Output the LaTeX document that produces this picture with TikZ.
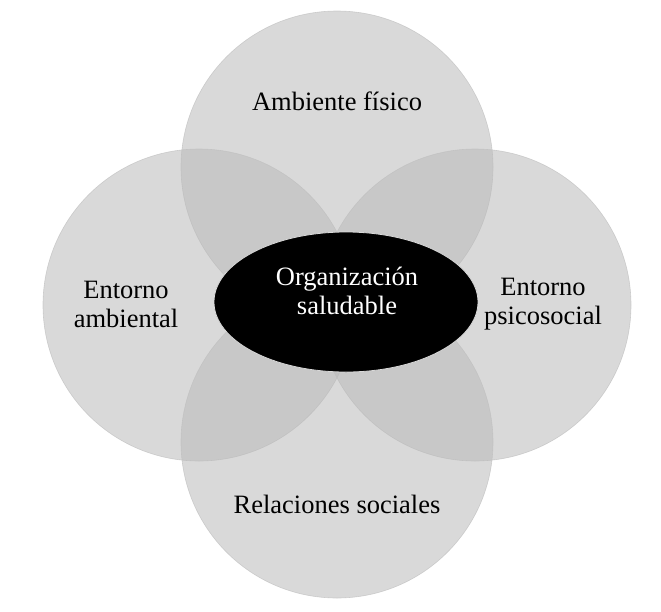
\documentclass[tikz,border=0pt]{standalone}
\usepackage{fontspec}
\setmainfont{Liberation Serif}
\usetikzlibrary{shapes.geometric}

\begin{document}
\begin{tikzpicture}[x=1pt, y=-1pt]
    % Styles for circles and texts
    \tikzstyle{area} = [circle, fill=black!27, fill opacity=0.55, draw=white!75!black, draw opacity=0.7, line width=0.6pt, minimum size=312pt, inner sep=0pt]
    \tikzstyle{areatext} = [align=center, font=\fontsize{26.5}{29}\selectfont, text=black]

    \useasboundingbox (0,0) rectangle (661,611);

  % Circles with explicit coordinates
    \node[area] (fisico) at (337,167) {};
    \node[area] (ambiental) at (199,305) {};
    \node[area] (psicosocial) at (475,305) {};
    \node[area] (sociales) at (337,442) {};

  % Centre ellipse
    \node[ellipse, fill=black, draw=white!85!black, line width=0.8pt, minimum width=264pt, minimum height=140pt, inner sep=0pt] (org) at (346,302) {};

  % Texts
    \node[areatext] (tfisico) at (337,101) {Ambiente físico};
    \node[areatext] (tambiental) at (126,304) {Entorno\\ambiental};
    \node[areatext] (tpsicosocial) at (543,304) {Entorno\\psicosocial};
    \node[areatext] (tsociales) at (337,504) {Relaciones sociales};
    \node[areatext, text=white] (torg) at (347,291) {Organización\\saludable};

\end{tikzpicture}
\end{document}
